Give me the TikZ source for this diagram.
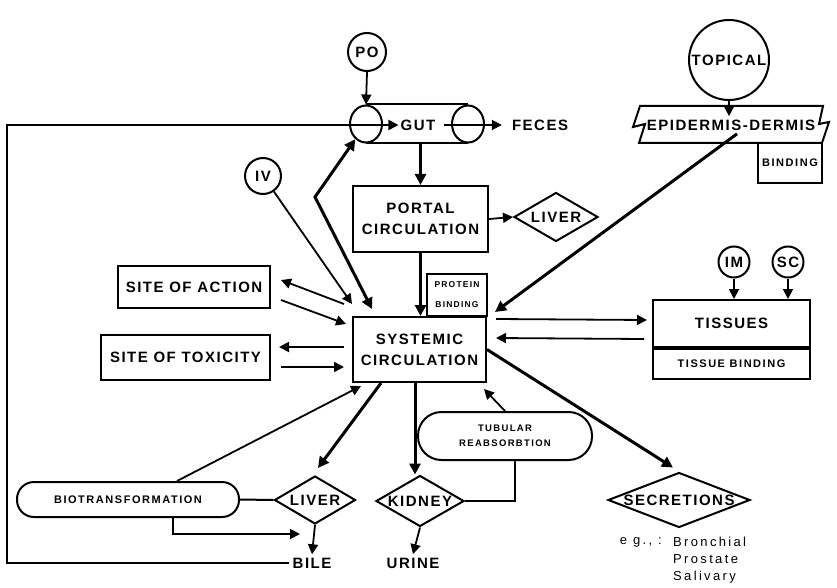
\documentclass[tikz,border=0pt]{standalone}
\usepackage{fontspec}
\setmainfont{Liberation Sans}
\newfontfamily\lblfont{Liberation Sans}[LetterSpace=10]
\newfontfamily\smlfont{Liberation Sans}[LetterSpace=14]
\newfontfamily\egfont{Liberation Sans}[LetterSpace=18]
\usetikzlibrary{arrows.meta,shapes.geometric,positioning}

\tikzset{
  lbl/.style={font=\lblfont\bfseries\fontsize{15}{21}\selectfont, align=center},
  small/.style={font=\smlfont\bfseries\fontsize{11}{15}\selectfont},
  tiny/.style={font=\smlfont\bfseries\fontsize{8.5}{20}\selectfont},
  box/.style={draw, line width=2pt, lbl, inner sep=0pt},
  circ/.style={circle, draw, line width=2pt, lbl, inner sep=0pt},
  ell/.style={ellipse, draw, line width=2pt, inner sep=0pt},
  dia/.style={diamond, draw, line width=2pt, inner sep=0pt},
  pill/.style={box, small},
  eg/.style={font=\egfont\fontsize{13}{14}\selectfont, inner sep=0pt},
  edge/.style={line width=2pt},
  arr/.style={-{Triangle[length=10pt,width=10pt]}, line width=1.8pt},
  thk/.style={-{Triangle[length=11pt,width=11pt]}, line width=3pt},
  dbl/.style={{Triangle[length=11pt,width=11pt]}-{Triangle[length=11pt,width=11pt]}, line width=3pt}
}

\begin{document}
\begin{tikzpicture}[x=1pt,y=-1pt]
\useasboundingbox (0,0) rectangle (837,588);

\node[circ, minimum size=38pt] (po) at (367,52) {PO};
\node[ell, minimum width=32pt, minimum height=37pt] (gutl) at (366,124) {};
\node[ell, minimum width=32pt, minimum height=37pt] (gutr) at (468,124) {};
\draw[edge] (gutl.north) -- (gutr.north) (gutl.south) -- (gutr.south);
\node[lbl, inner sep=2pt] (gut) at (418,125) {GUT};
\node[lbl, inner sep=2pt] (feces) at (540,125) {FECES};
\node[box, minimum width=135pt, minimum height=66pt] (portal) at (420.5,219) {PORTAL\\CIRCULATION};
\node[dia, minimum width=84pt, minimum height=49pt, label={[lbl]center:LIVER}] (liverp) at (556,217) {};
\node[box, tiny, minimum width=60pt, minimum height=42pt] (protein) at (457,295) {PROTEIN\\BINDING};
\node[box, minimum width=133pt, minimum height=65pt] (systemic) at (419.5,349.5) {SYSTEMIC\\CIRCULATION};
\node[circ, minimum size=36pt] (iv) at (263,176) {IV};
\node[box, minimum width=152pt, minimum height=42pt] (action) at (194,287) {SITE OF ACTION};
\node[box, minimum width=169pt, minimum height=45pt] (toxicity) at (185.5,357.5) {SITE OF TOXICITY};

\node[circ, minimum size=80pt] (topical) at (729,60) {TOPICAL};
\node[lbl] (epi) at (731,125) {EPIDERMIS-DERMIS};
\draw[edge] (640,106) -- (823,106) -- (819,124) -- (829,122) -- (822,143)
  -- (639,143) -- (645,124) -- (633,127) -- cycle;
\node[box, small, minimum width=64pt, minimum height=40pt] (binding) at (790,163) {BINDING};
\foreach \n/\x/\t in {im/734/IM, sc/788/SC}
  \node[circ, minimum size=31pt] (\n) at (\x,262) {\t};
\node[box, minimum width=157pt, minimum height=47pt] (tissues) at (731.5,323.5) {TISSUES};
\node[box, small, minimum width=157pt, minimum height=30pt, anchor=north] (tbind) at (tissues.south) {TISSUE BINDING};

\node[dia, minimum width=142pt, minimum height=55pt, label={[lbl]center:SECRETIONS}] (secr) at (679,500) {};
\node[eg, anchor=west] (bron) at (673,542) {Bronchial};
\node[eg, anchor=west] (pros) at (673,559) {Prostate};
\node[eg, anchor=west] (saliv) at (673,577) {Salivary};
\node[eg, anchor=east] (egs) at (662,542) {e g., :};

\node[pill, minimum width=174pt, minimum height=48pt, rounded corners=23.5pt, font=\smlfont\bfseries\fontsize{9.5}{15}\selectfont] (tubular) at (505,436) {TUBULAR\\REABSORBTION};
\node[dia, minimum width=88pt, minimum height=51pt, label={[lbl]center:KIDNEY}] (kidney) at (420,501) {};
\node[lbl] (urine) at (413,563) {URINE};
\node[dia, minimum width=81pt, minimum height=48pt, label={[lbl]center:LIVER}] (liverb) at (315,500) {};
\node[lbl] (bile) at (312,563) {BILE};
\node[pill, minimum width=222pt, minimum height=35pt, rounded corners=17pt] (bio) at (128,499.5) {BIOTRANSFORMATION};

\coordinate (corner) at (7,563);
\coordinate (bend) at (315,197);
\coordinate (biletip) at (300,534);

\draw[arr] (po.south) -- (gutl.north);
\draw[arr] (bile.west) -- (corner) |- (gut.west);
\draw[arr] ([xshift=6pt]gut.east) -- ([xshift=-8pt]feces.west);
\draw[thk] (portal.north |- gutl.south) -- (portal.north);
\draw[arr] (portal.east) -- (liverp.west);
\draw[thk] (portal.south) -- (portal.south |- systemic.north);
\draw[arr] (iv.-55) -- ([yshift=12pt]systemic.north west);
\draw[dbl] ([shift={(20pt,7pt)}]systemic.north west) -- (bend) -- (gutl.-125);
\draw[arr] ([shift={(-8pt,12pt)}]systemic.north west) -- ([shift={(10pt,7pt)}]action.east);
\draw[arr] ([shift={(10pt,-13pt)}]action.east) -- ([shift={(-6pt,-8pt)}]systemic.north west);
\draw[arr] ([shift={(-8pt,2.5pt)}]systemic.west) -- ([shift={(8pt,10.5pt)}]toxicity.east);
\draw[arr] ([shift={(10pt,-9.5pt)}]toxicity.east) -- ([shift={(-8pt,-17.5pt)}]systemic.west);

\draw[arr] (topical.south) -- (topical.south |- epi.north);
\draw[thk] ([xshift=6pt]epi.south) -- ([shift={(7pt,5pt)}]protein.south east);
\foreach \n in {im, sc}
  \draw[arr] (\n.south) -- (\n.south |- tissues.north);
\draw[arr] ([shift={(9pt,-3pt)}]systemic.north east) -- ([shift={(-5pt,3.5pt)}]tissues.west);
\draw[arr] ([shift={(-8pt,-15.5pt)}]tissues.west) -- ([shift={(9pt,-22pt)}]systemic.north east);
\draw[thk] (systemic.east) -- ([shift={(-6pt,4pt)}]secr.north);

\draw[arr] (tubular.north) -- ([shift={(-3pt,-6pt)}]systemic.south east);
\draw[edge] ([xshift=10pt]tubular.south) |- (kidney.east);
\draw[thk] ([xshift=-5pt]kidney.north |- systemic.south) -- ([xshift=-5pt]kidney.north);
\draw[arr] (kidney.south) -- (urine.north);
\draw[thk] ([xshift=29pt]systemic.south west) -- ([shift={(3pt,7pt)}]liverb.north);
\draw[arr] (liverb.south) -- (bile.north);
\draw[edge] (bio.east) -- (liverb.west);
\draw[arr] ([xshift=49pt]bio.north) -- ([shift={(9pt,-3pt)}]systemic.south west);
\draw[arr] ([xshift=45pt]bio.south) |- (biletip);
\end{tikzpicture}
\end{document}
